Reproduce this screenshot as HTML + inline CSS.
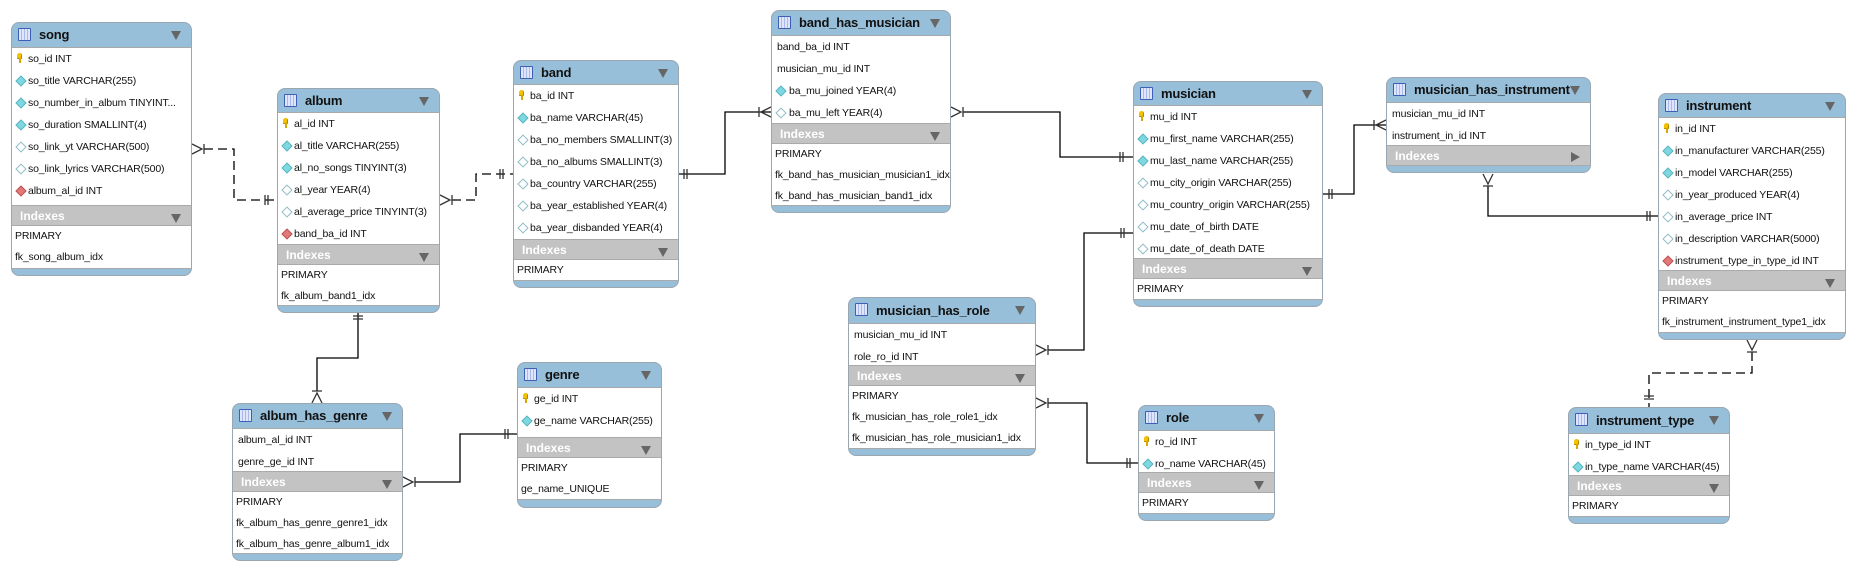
<!DOCTYPE html>
<html><head><meta charset="utf-8"><style>
body{margin:0;width:1855px;height:571px;background:#fff;position:relative;overflow:hidden;font-family:"Liberation Sans",Tahoma,sans-serif;}
.t{position:absolute;border:1px solid #9aa6b0;border-radius:8px;overflow:hidden;background:#97bfd9;box-sizing:border-box;}
.h{position:relative;font-weight:bold;font-size:13px;letter-spacing:-0.2px;color:#111;padding-left:27px;box-sizing:border-box;}
.h:before{content:"";position:absolute;left:6px;top:5px;width:11px;height:11px;border:1px solid #3c5fb8;background:repeating-linear-gradient(90deg,#dfe6fb 0 2px,#a9b9ea 2px 3px);border-radius:1px;}
.h:after,.ix:after{content:"";position:absolute;right:10px;top:8px;border-left:5px solid transparent;border-right:5px solid transparent;border-top:9px solid #666;}
.f{background:#fff;border-top:1px solid #a9a9a9;box-sizing:border-box;}
.r{height:22px;line-height:22px;font-size:10.5px;letter-spacing:-0.15px;color:#111;padding-left:16px;position:relative;white-space:nowrap;}
.r.n{padding-left:5px;}
.ix{position:relative;background:#c3c3c3;color:#fff;font-weight:bold;font-size:12px;padding-left:8px;box-sizing:border-box;border-top:1px solid #aaa;border-bottom:1px solid #aaa;}
.ix.rt:after{border-top:5px solid transparent;border-bottom:5px solid transparent;border-left:9px solid #666;border-right:0;top:6px;}
.ir{background:#fff;box-sizing:border-box;border-bottom:1px solid #aaa;}
.ir div{height:21px;line-height:21px;font-size:10.5px;letter-spacing:-0.15px;color:#111;padding-left:3px;white-space:nowrap;}
.k:before{content:"";position:absolute;left:5px;top:5px;width:5px;height:6px;background:#f2c200;border-radius:3px 3px 1px 1px;box-shadow:inset -1px -1px #b08a00;}
.k:after{content:"";position:absolute;left:7px;top:10px;width:2px;height:5px;background:#d9a800;}
.d:before,.o:before,.fk:before{content:"";position:absolute;left:5px;top:7px;width:7px;height:7px;transform:rotate(45deg);}
.d:before{background:#7fd8e0;border:1px solid #58b5c2;width:6px;height:6px;}
.o:before{background:#fff;border:1px solid #8fbcc6;width:6px;height:6px;}
.fk:before{background:#e07a7a;border:1px solid #c05050;width:6px;height:6px;}
</style></head><body>
<svg width="1855" height="571" style="position:absolute;left:0;top:0" fill="none" stroke="#000" stroke-width="1.3">
<g stroke-dasharray="9,5">
<path d="M204 149 H234 V200 H277"/>
<path d="M452 200 H476 V174 H513"/>
<path d="M1752 352 V373 H1649 V407"/>
</g>
<path d="M679 174 H725 V112 H771"/>
<path d="M963 112 H1060 V157 H1133"/>
<path d="M1133 233 H1084 V350 H1048"/>
<path d="M1048 403 H1087 V463 H1138"/>
<path d="M1323 194 H1354 V125 H1386"/>
<path d="M1488 186 V216 H1658"/>
<path d="M358 313 V358 H317 V391"/>
<path d="M415 482 H460 V434 H517"/>
<g stroke="#333">
<path d="M192 144 L202 149 L192 154 M204 144 V154"/>
<path d="M440 195 L450 200 L440 205 M452 195 V205"/>
<path d="M771 107 L761 112 L771 117 M759 107 V117"/>
<path d="M951 107 L961 112 L951 117 M963 107 V117"/>
<path d="M1036 345 L1046 350 L1036 355 M1048 345 V355"/>
<path d="M1036 398 L1046 403 L1036 408 M1048 398 V408"/>
<path d="M1386 120 L1376 125 L1386 130 M1374 120 V130"/>
<path d="M1483 174 L1488 184 L1493 174 M1483 186 H1493"/>
<path d="M1747 340 L1752 350 L1757 340 M1747 352 H1757"/>
<path d="M312 403 L317 393 L322 403 M312 391 H322"/>
<path d="M403 477 L413 482 L403 487 M415 477 V487"/>
<path d="M265 195 V205 M268 195 V205"/>
<path d="M500 169 V179 M503 169 V179"/>
<path d="M684 169 V179 M687 169 V179"/>
<path d="M1120 152 V162 M1123 152 V162"/>
<path d="M1121 228 V238 M1124 228 V238"/>
<path d="M1127 458 V468 M1130 458 V468"/>
<path d="M1329 189 V199 M1332 189 V199"/>
<path d="M1647 211 V221 M1650 211 V221"/>
<path d="M1644 396 H1654 M1644 399 H1654"/>
<path d="M353 316 H363 M353 319 H363"/>
<path d="M505 429 V439 M508 429 V439"/>
</g>
</svg>

<div class="t" style="left:11px;top:22px;width:181px;height:254px">
<div class="h" style="height:24px;line-height:24px">song</div>
<div class="f" style="height:158px"><div class="r k">so_id INT</div><div class="r d">so_title VARCHAR(255)</div><div class="r d">so_number_in_album TINYINT...</div><div class="r d">so_duration SMALLINT(4)</div><div class="r o">so_link_yt VARCHAR(500)</div><div class="r o">so_link_lyrics VARCHAR(500)</div><div class="r fk">album_al_id INT</div></div>
<div class="ix" style="height:21px;line-height:20px">Indexes</div>
<div class="ir" style="height:43px"><div>PRIMARY</div><div>fk_song_album_idx</div></div>
</div>

<div class="t" style="left:277px;top:88px;width:163px;height:225px">
<div class="h" style="height:23px;line-height:24px">album</div>
<div class="f" style="height:132px"><div class="r k">al_id INT</div><div class="r d">al_title VARCHAR(255)</div><div class="r d">al_no_songs TINYINT(3)</div><div class="r o">al_year YEAR(4)</div><div class="r o">al_average_price TINYINT(3)</div><div class="r fk">band_ba_id INT</div></div>
<div class="ix" style="height:21px;line-height:20px">Indexes</div>
<div class="ir" style="height:41px"><div>PRIMARY</div><div>fk_album_band1_idx</div></div>
</div>

<div class="t" style="left:513px;top:60px;width:166px;height:228px">
<div class="h" style="height:23px;line-height:24px">band</div>
<div class="f" style="height:155px"><div class="r k">ba_id INT</div><div class="r d">ba_name VARCHAR(45)</div><div class="r o">ba_no_members SMALLINT(3)</div><div class="r o">ba_no_albums SMALLINT(3)</div><div class="r o">ba_country VARCHAR(255)</div><div class="r o">ba_year_established YEAR(4)</div><div class="r o">ba_year_disbanded YEAR(4)</div></div>
<div class="ix" style="height:21px;line-height:20px">Indexes</div>
<div class="ir" style="height:21px"><div>PRIMARY</div></div>
</div>

<div class="t" style="left:771px;top:10px;width:180px;height:203px">
<div class="h" style="height:24px;line-height:24px">band_has_musician</div>
<div class="f" style="height:88px"><div class="r n">band_ba_id INT</div><div class="r n">musician_mu_id INT</div><div class="r d" style="padding-left:17px">ba_mu_joined YEAR(4)</div><div class="r o" style="padding-left:17px">ba_mu_left YEAR(4)</div></div>
<div class="ix" style="height:21px;line-height:20px">Indexes</div>
<div class="ir" style="height:62px"><div>PRIMARY</div><div>fk_band_has_musician_musician1_idx</div><div>fk_band_has_musician_band1_idx</div></div>
</div>

<div class="t" style="left:1133px;top:81px;width:190px;height:226px">
<div class="h" style="height:23px;line-height:24px">musician</div>
<div class="f" style="height:153px"><div class="r k">mu_id INT</div><div class="r d">mu_first_name VARCHAR(255)</div><div class="r d">mu_last_name VARCHAR(255)</div><div class="r o">mu_city_origin VARCHAR(255)</div><div class="r o">mu_country_origin VARCHAR(255)</div><div class="r o">mu_date_of_birth DATE</div><div class="r o">mu_date_of_death DATE</div></div>
<div class="ix" style="height:21px;line-height:20px">Indexes</div>
<div class="ir" style="height:21px"><div>PRIMARY</div></div>
</div>

<div class="t" style="left:1386px;top:77px;width:205px;height:96px">
<div class="h" style="height:24px;line-height:24px">musician_has_instrument</div>
<div class="f" style="height:43px"><div class="r n">musician_mu_id INT</div><div class="r n">instrument_in_id INT</div></div>
<div class="ix rt" style="height:21px;line-height:20px">Indexes</div>
</div>

<div class="t" style="left:1658px;top:93px;width:188px;height:247px">
<div class="h" style="height:23px;line-height:24px">instrument</div>
<div class="f" style="height:153px"><div class="r k">in_id INT</div><div class="r d">in_manufacturer VARCHAR(255)</div><div class="r d">in_model VARCHAR(255)</div><div class="r o">in_year_produced YEAR(4)</div><div class="r o">in_average_price INT</div><div class="r o">in_description VARCHAR(5000)</div><div class="r fk">instrument_type_in_type_id INT</div></div>
<div class="ix" style="height:21px;line-height:20px">Indexes</div>
<div class="ir" style="height:42px"><div>PRIMARY</div><div>fk_instrument_instrument_type1_idx</div></div>
</div>

<div class="t" style="left:1568px;top:407px;width:162px;height:117px">
<div class="h" style="height:25px;line-height:25px">instrument_type</div>
<div class="f" style="height:42px"><div class="r k">in_type_id INT</div><div class="r d">in_type_name VARCHAR(45)</div></div>
<div class="ix" style="height:21px;line-height:20px">Indexes</div>
<div class="ir" style="height:21px"><div>PRIMARY</div></div>
</div>

<div class="t" style="left:848px;top:297px;width:188px;height:159px">
<div class="h" style="height:25px;line-height:25px">musician_has_role</div>
<div class="f" style="height:42px"><div class="r n">musician_mu_id INT</div><div class="r n">role_ro_id INT</div></div>
<div class="ix" style="height:21px;line-height:20px">Indexes</div>
<div class="ir" style="height:63px"><div>PRIMARY</div><div>fk_musician_has_role_role1_idx</div><div>fk_musician_has_role_musician1_idx</div></div>
</div>

<div class="t" style="left:1138px;top:405px;width:137px;height:116px">
<div class="h" style="height:24px;line-height:24px">role</div>
<div class="f" style="height:42px"><div class="r k">ro_id INT</div><div class="r d">ro_name VARCHAR(45)</div></div>
<div class="ix" style="height:21px;line-height:20px">Indexes</div>
<div class="ir" style="height:21px"><div>PRIMARY</div></div>
</div>

<div class="t" style="left:232px;top:403px;width:171px;height:158px">
<div class="h" style="height:24px;line-height:24px">album_has_genre</div>
<div class="f" style="height:43px"><div class="r n">album_al_id INT</div><div class="r n">genre_ge_id INT</div></div>
<div class="ix" style="height:21px;line-height:20px">Indexes</div>
<div class="ir" style="height:62px"><div>PRIMARY</div><div>fk_album_has_genre_genre1_idx</div><div>fk_album_has_genre_album1_idx</div></div>
</div>

<div class="t" style="left:517px;top:362px;width:145px;height:146px">
<div class="h" style="height:24px;line-height:24px">genre</div>
<div class="f" style="height:50px"><div class="r k">ge_id INT</div><div class="r d">ge_name VARCHAR(255)</div></div>
<div class="ix" style="height:21px;line-height:20px">Indexes</div>
<div class="ir" style="height:42px"><div>PRIMARY</div><div>ge_name_UNIQUE</div></div>
</div>
</body></html>
